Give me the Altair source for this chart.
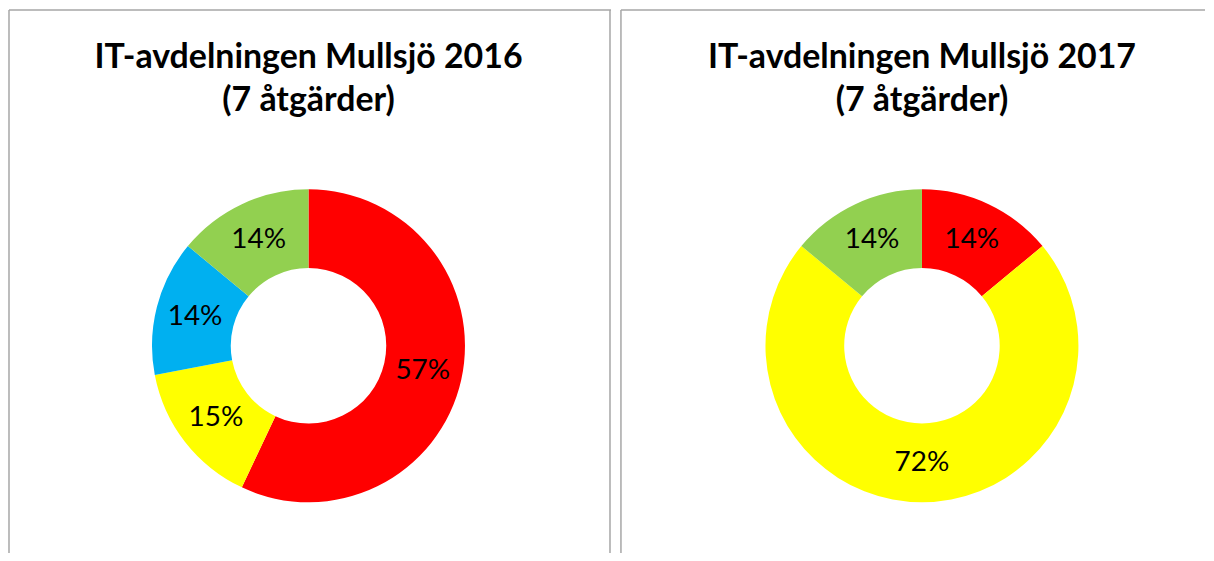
import altair as alt
import pandas as pd

# data
cats_2016 = ["Röd", "Gul", "Blå", "Grön"]
vals_2016 = [57, 15, 14, 14]
cats_2017 = ["Röd", "Gul", "Grön"]
vals_2017 = [14, 72, 14]
title_2016 = ["IT-avdelningen Mullsjö 2016", "(7 åtgärder)"]
title_2017 = ["IT-avdelningen Mullsjö 2017", "(7 åtgärder)"]

color_domain = ["Röd", "Gul", "Blå", "Grön"]
color_range = ["#FF0000", "#FFFF00", "#00B0F0", "#92D050"]

H = 545
CY = 337
R_OUT, R_IN = 157, 78
R_LAB = (R_OUT + R_IN) / 2
BORDER = "#A6A6A6"


def rule(x=None, x2=None, y=None, y2=None):
    enc = {}
    if x is not None:
        enc["x"] = alt.value(x)
    if x2 is not None:
        enc["x2"] = alt.value(x2)
    if y is not None:
        enc["y"] = alt.value(y)
    if y2 is not None:
        enc["y2"] = alt.value(y2)
    return alt.Chart(pd.DataFrame({"a": [0]})).mark_rule(color=BORDER, strokeWidth=1.5).encode(**enc)


def panel(cats, vals, title_lines, cx, width, right_border):
    df = pd.DataFrame({"kat": cats, "andel": vals, "ord": list(range(len(cats)))})
    df["label"] = [f"{v}%" for v in vals]
    base = alt.Chart(df)
    arc = base.mark_arc(radius=R_OUT, radius2=R_IN).encode(
        theta=alt.Theta("andel:Q", stack=True),
        order=alt.Order("ord:Q", sort="ascending"),
        color=alt.Color("kat:N", scale=alt.Scale(domain=color_domain, range=color_range), legend=None),
        x=alt.value(cx),
        y=alt.value(CY),
    )
    text = base.mark_text(font="Lato", fontSize=28, color="#000000").encode(
        theta=alt.Theta("andel:Q", stack=True),
        order=alt.Order("ord:Q", sort="ascending"),
        radius=alt.value(R_LAB),
        text="label:N",
        x=alt.value(cx),
        y=alt.value(CY),
    )
    tdf = pd.DataFrame({"t": title_lines, "yy": [58, 101]})
    title = alt.Chart(tdf).mark_text(
        font="Lato", fontSize=34, fontWeight="bold", color="#000000", align="center", baseline="alphabetic"
    ).encode(
        text="t:N",
        x=alt.value(cx),
        y=alt.Y("yy:Q", scale=None, axis=None),
    )
    layers = [arc, text, title, rule(x=0, y=0, y2=H), rule(x=0, x2=width, y=0)]
    if right_border:
        layers.append(rule(x=width - 1, y=0, y2=H))
    return alt.layer(*layers).properties(width=width, height=H)


left = panel(cats_2016, vals_2016, title_2016, 300.5, 604, True)
right = panel(cats_2017, vals_2017, title_2017, 302, 586, False)

chart = (
    alt.hconcat(left, right, spacing=8)
    .properties(padding=0)
    .configure_view(stroke=None)
)

chart.save("out.html", embed_options={"renderer": "svg", "actions": False})
